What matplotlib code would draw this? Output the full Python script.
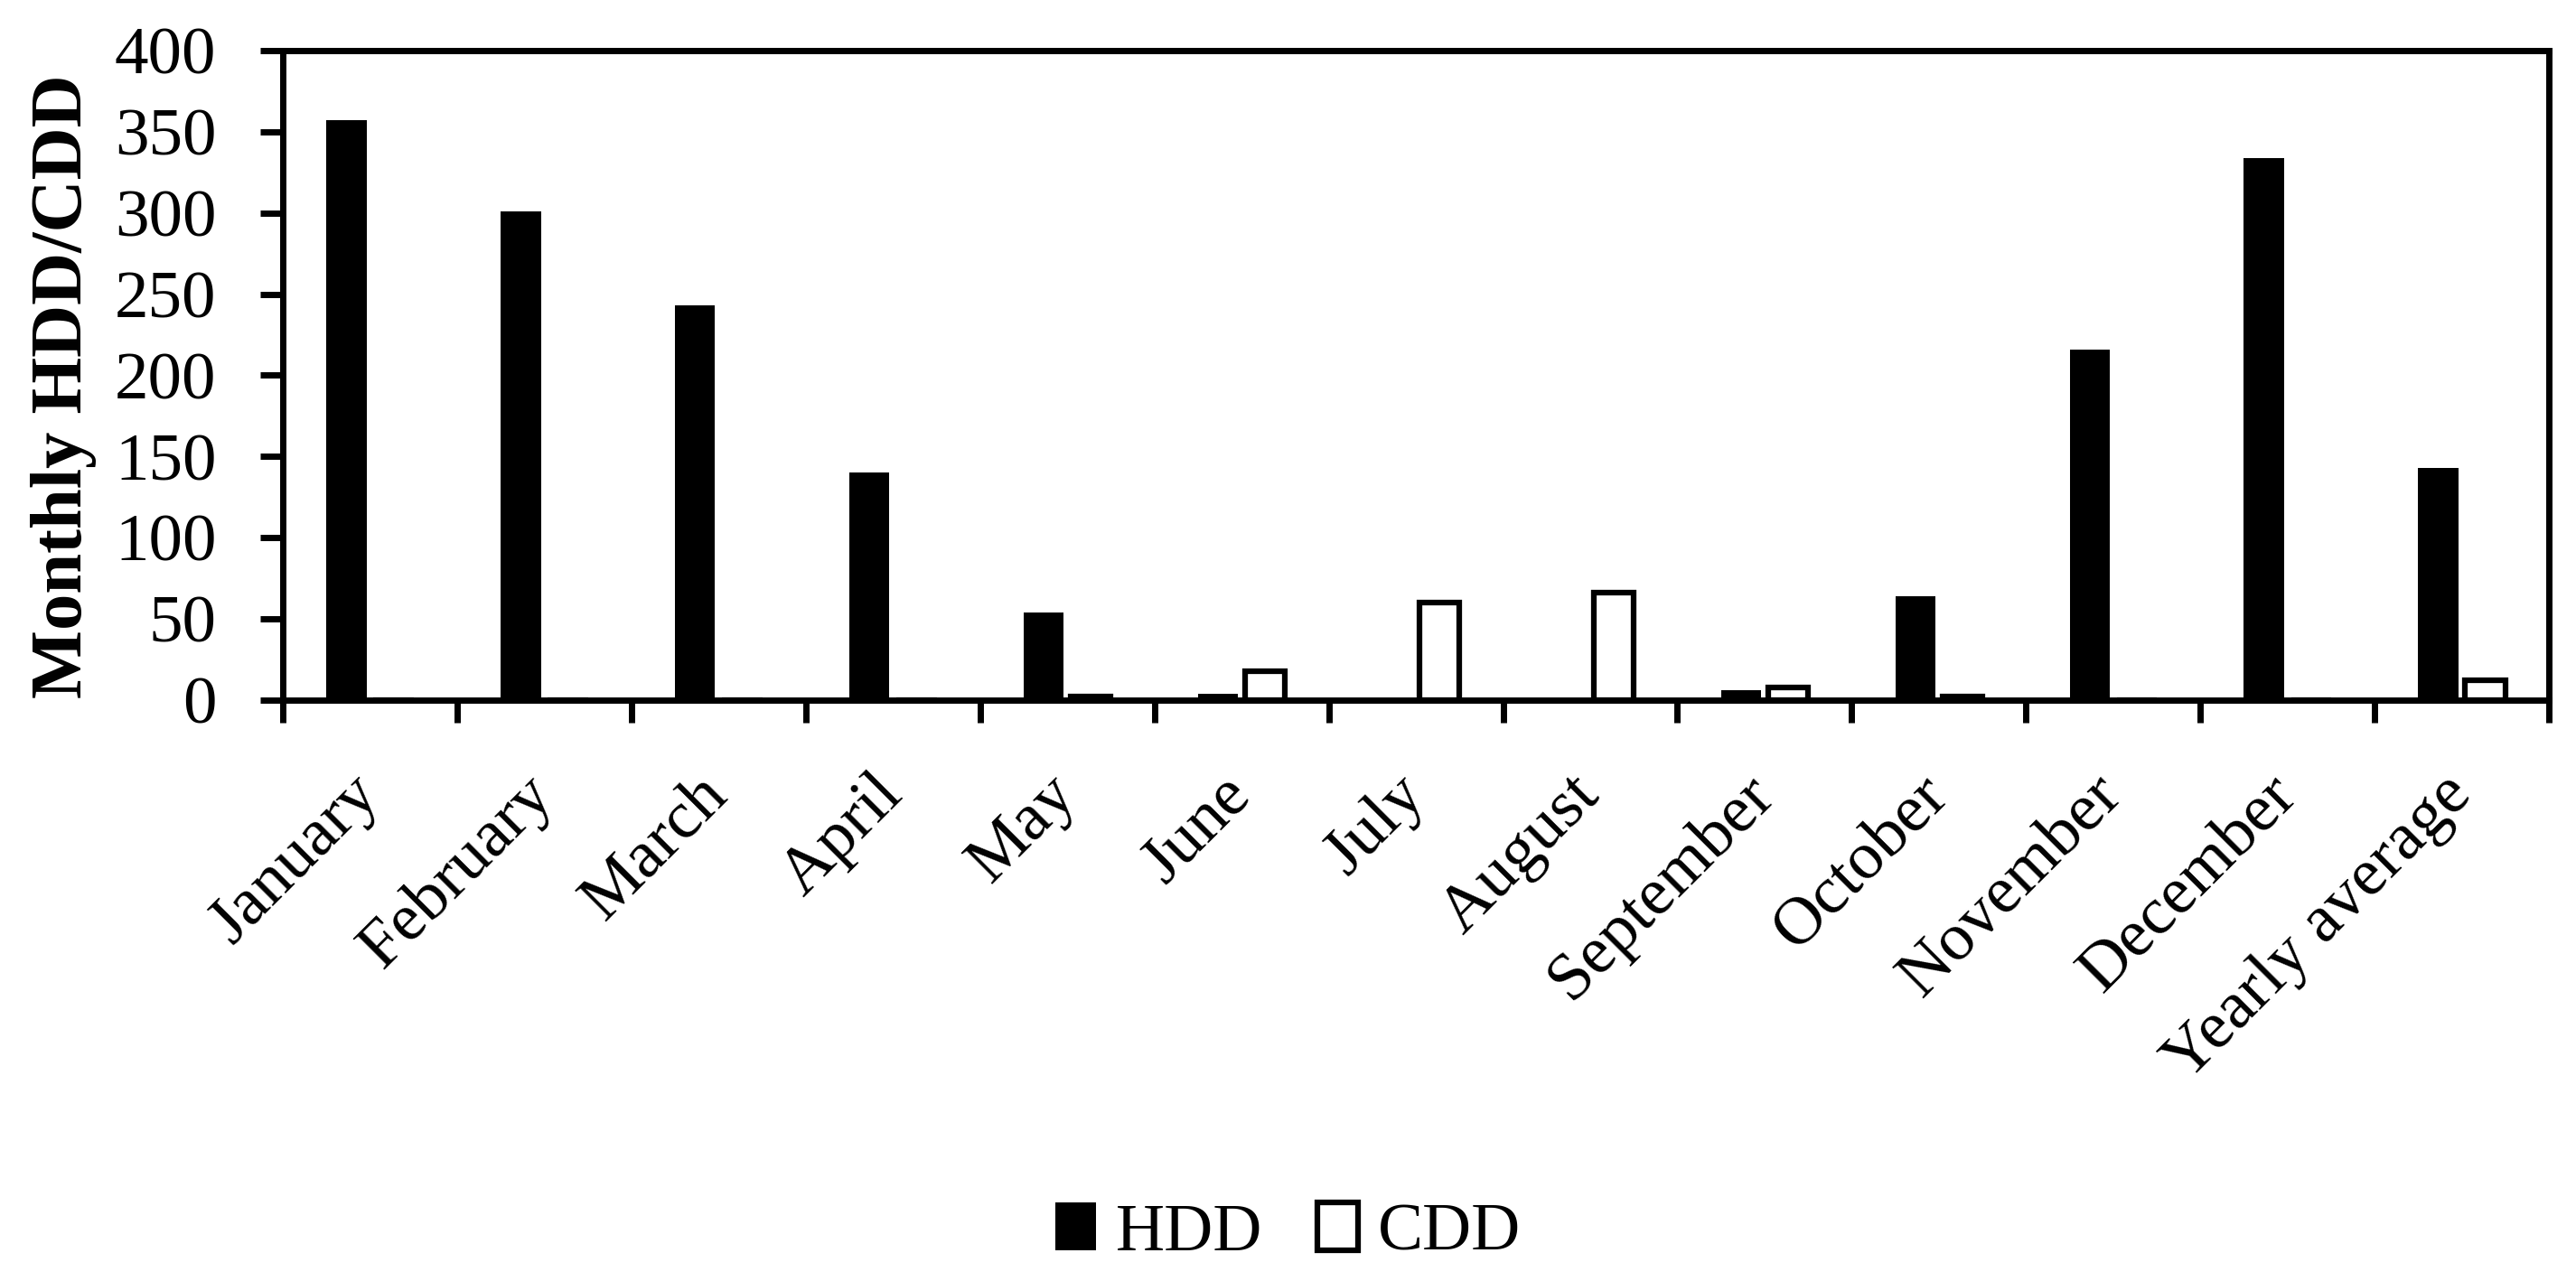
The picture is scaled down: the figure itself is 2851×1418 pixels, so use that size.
import numpy as np
import matplotlib
matplotlib.use("agg")
import matplotlib.pyplot as plt

months = ["January", "February", "March", "April", "May", "June", "July",
          "August", "September", "October", "November", "December", "Yearly average"]
hdd = [357, 301, 243, 140, 54, 4, 0, 0, 6, 64, 216, 334, 143]
cdd = [0, 0, 0, 0, 2, 18, 60, 66, 8, 2, 0, 0, 12]

plt.rcParams['font.family'] = ['Liberation Serif', 'DejaVu Serif']

fig = plt.figure(figsize=(28.51, 14.18), dpi=100)
ax = fig.add_axes([0.1098, 0.4535, 0.8797, 0.507])

x = np.arange(len(months))
w = 0.23
ax.bar(x - 0.135, hdd, w, color='black', edgecolor='black', linewidth=0, label='HDD')
ax.bar(x + 0.135, cdd, w, color='white', edgecolor='black', linewidth=4.5, label='CDD')

ax.set_ylim(0, 400)
ax.set_yticks(np.arange(0, 401, 50))
ax.set_xlim(-0.5, len(months) - 0.5)

# ticks between categories, labels at category centres
ax.set_xticks(np.arange(-0.5, len(months), 1))
ax.set_xticklabels([])
ax.set_xticks(x, minor=True)
ax.set_xticklabels(months, minor=True, rotation=45, ha='right', va='center',
                   rotation_mode='anchor', fontsize=54)
ax.tick_params(axis='x', which='minor', length=0, pad=68)
ax.tick_params(axis='x', which='major', direction='out', length=18, width=5)
ax.tick_params(axis='y', direction='out', length=18, width=5, labelsize=54, pad=35)

for s in ax.spines.values():
    s.set_linewidth(5)

ax.set_ylabel('Monthly HDD/CDD', fontsize=58, fontweight='bold')
ax.yaxis.set_label_coords(-0.082, 0.483)

fig.legend(loc='center', bbox_to_anchor=(0.5, 0.037), ncol=2, frameon=False,
           fontsize=54, handlelength=0.6, handleheight=0.7, handletextpad=0.3,
           columnspacing=0.8)

fig.savefig('out.png', dpi=100)
